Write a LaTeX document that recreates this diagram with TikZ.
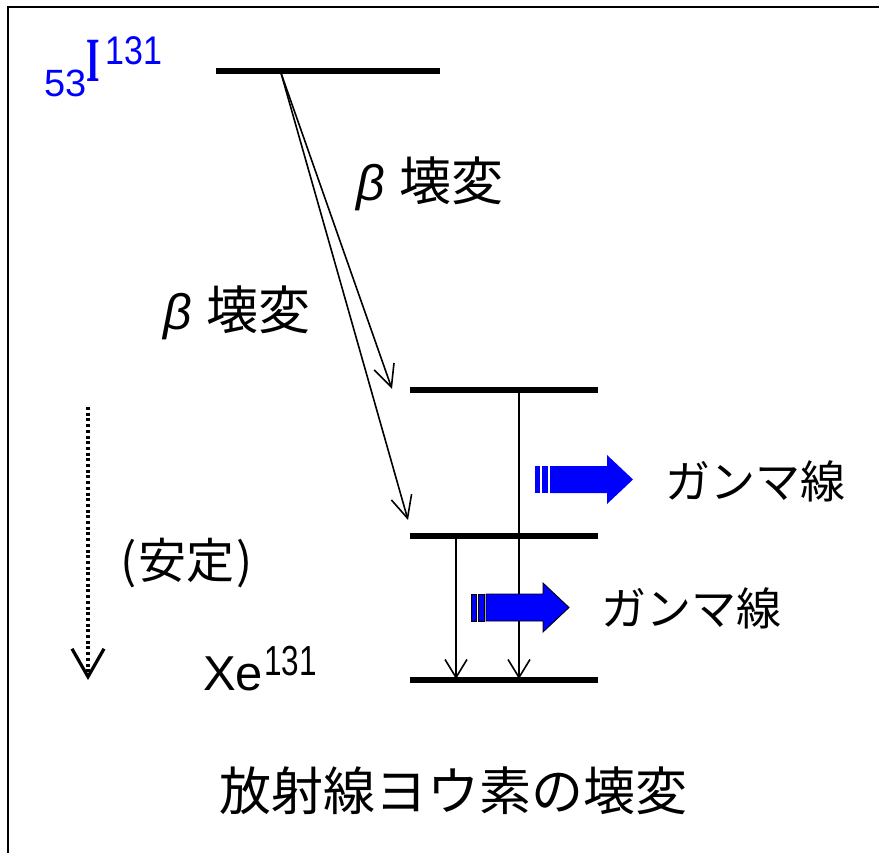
\documentclass[tikz,border=0pt]{standalone}
\usepackage{fontspec}
\setmainfont{Liberation Sans}
\newfontfamily\jp{Noto Sans CJK JP}
\newfontfamily\narrowsans[FakeStretch=0.75]{Liberation Sans}
\newfontfamily\semisans[FakeStretch=0.85]{Liberation Sans}
\newfontfamily\narrowserif[FakeStretch=0.55]{Liberation Serif}
\usetikzlibrary{arrows.meta}
\definecolor{nblue}{RGB}{0,0,255}
\tikzset{
  levelline/.style={line width=6pt},
  decay/.style={line width=1.6pt,-{Straight Barb[length=22pt,width=21pt]}},
  gamline/.style={line width=1.6pt,-{Straight Barb[length=18pt,width=22pt]}},
  stableline/.style={line width=4pt,dash pattern=on 3pt off 2.7pt,-{Straight Barb[length=28pt,width=32pt,line width=3.2pt]}},
  lbl/.style={inner sep=0pt,anchor=west},
  blbl/.style={inner sep=0pt,anchor=base west},
  gammaarrow/.pic={
    \fill[nblue,#1] (0,-13.5) rectangle (5,13.5);
    \fill[nblue,#1] (7,-13.5) rectangle (13,13.5);
    \fill[nblue,#1] (15,-13.5) -- (72,-13.5) -- (72,-24.5) -- (98,0) -- (72,24.5) -- (72,13.5) -- (15,13.5) -- cycle;
  },
  gammaarrow/.default={}
}
\begin{document}
\begin{tikzpicture}[x=1pt,y=-1pt]
\useasboundingbox (0,0) rectangle (879,853);
% frame
\coordinate (fb) at (8,853);
\coordinate (fc) at (8,7);
\coordinate (fr) at (879,7);
\draw[line width=2pt] (fb) -- (fc) -- (fr);
% levels
\coordinate (I-l) at (216,71);  \coordinate (I-r) at (440,71);
\coordinate (A-l) at (410,390); \coordinate (A-r) at (598,390);
\coordinate (B-l) at (410,536); \coordinate (B-r) at (598,536);
\coordinate (G-l) at (410,680); \coordinate (G-r) at (598,680);
\draw[levelline] (I-l) -- (I-r);
\draw[levelline] (A-l) -- (A-r);
\draw[levelline] (B-l) -- (B-r);
\draw[levelline] (G-l) -- (G-r);
% beta decays
\coordinate (b0) at (281,73);
\coordinate (t1) at (392,389);
\coordinate (t2) at (408,520);
\draw[decay] (b0) -- (t1);
\draw[decay] (b0) -- (t2);
% gamma transitions
\coordinate (g1s) at (519,390); \coordinate (g1e) at (519,679);
\coordinate (g2s) at (456,536); \coordinate (g2e) at (456,679);
\draw[gamline] (g1s) -- (g1e);
\draw[gamline] (g2s) -- (g2e);
% blue arrows
\pic at (535,479.5) {gammaarrow};
\pic at (471,607.5) {gammaarrow={draw=black,line width=0.9pt}};
% stable arrow
\coordinate (d0) at (88,407);
\coordinate (d1) at (88,680);
\draw[stableline] (d0) -- (d1);
% labels
\node[blbl,text=nblue] (Z) at (44,97) {\fontsize{38}{38}\selectfont 53};
\node[blbl,text=nblue] (Isym) at (86,82) {\narrowserif\bfseries\fontsize{63}{63}\selectfont I};
\node[blbl,text=nblue] (Amass) at (105,65) {\semisans\fontsize{40}{40}\selectfont 131};
\node[lbl] (beta1) at (356,184) {\fontsize{50}{50}\selectfont\itshape β\upshape\hspace{0.3em}{\jp\fontsize{52}{52}\selectfont 壊変}};
\node[lbl] (beta2) at (163,313) {\fontsize{50}{50}\selectfont\itshape β\upshape\hspace{0.3em}{\jp\fontsize{52}{52}\selectfont 壊変}};
\node[lbl] (gam1) at (665,481) {\jp\fontsize{45}{45}\selectfont ガンマ線};
\node[lbl] (gam2) at (601,608) {\jp\fontsize{45}{45}\selectfont ガンマ線};
\node[lbl] (stable) at (120,563) {\jp\fontsize{48}{48}\selectfont (\hspace{2pt}安定\hspace{2pt})};
\node[blbl] (Xe) at (203,690) {\fontsize{49}{49}\selectfont Xe};
\node[blbl] (Xemass) at (264,675) {\narrowsans\fontsize{42}{42}\selectfont 131};
\node[lbl] (title) at (219,791) {\jp\fontsize{52}{52}\selectfont 放射線ヨウ素の壊変};
\end{tikzpicture}
\end{document}
